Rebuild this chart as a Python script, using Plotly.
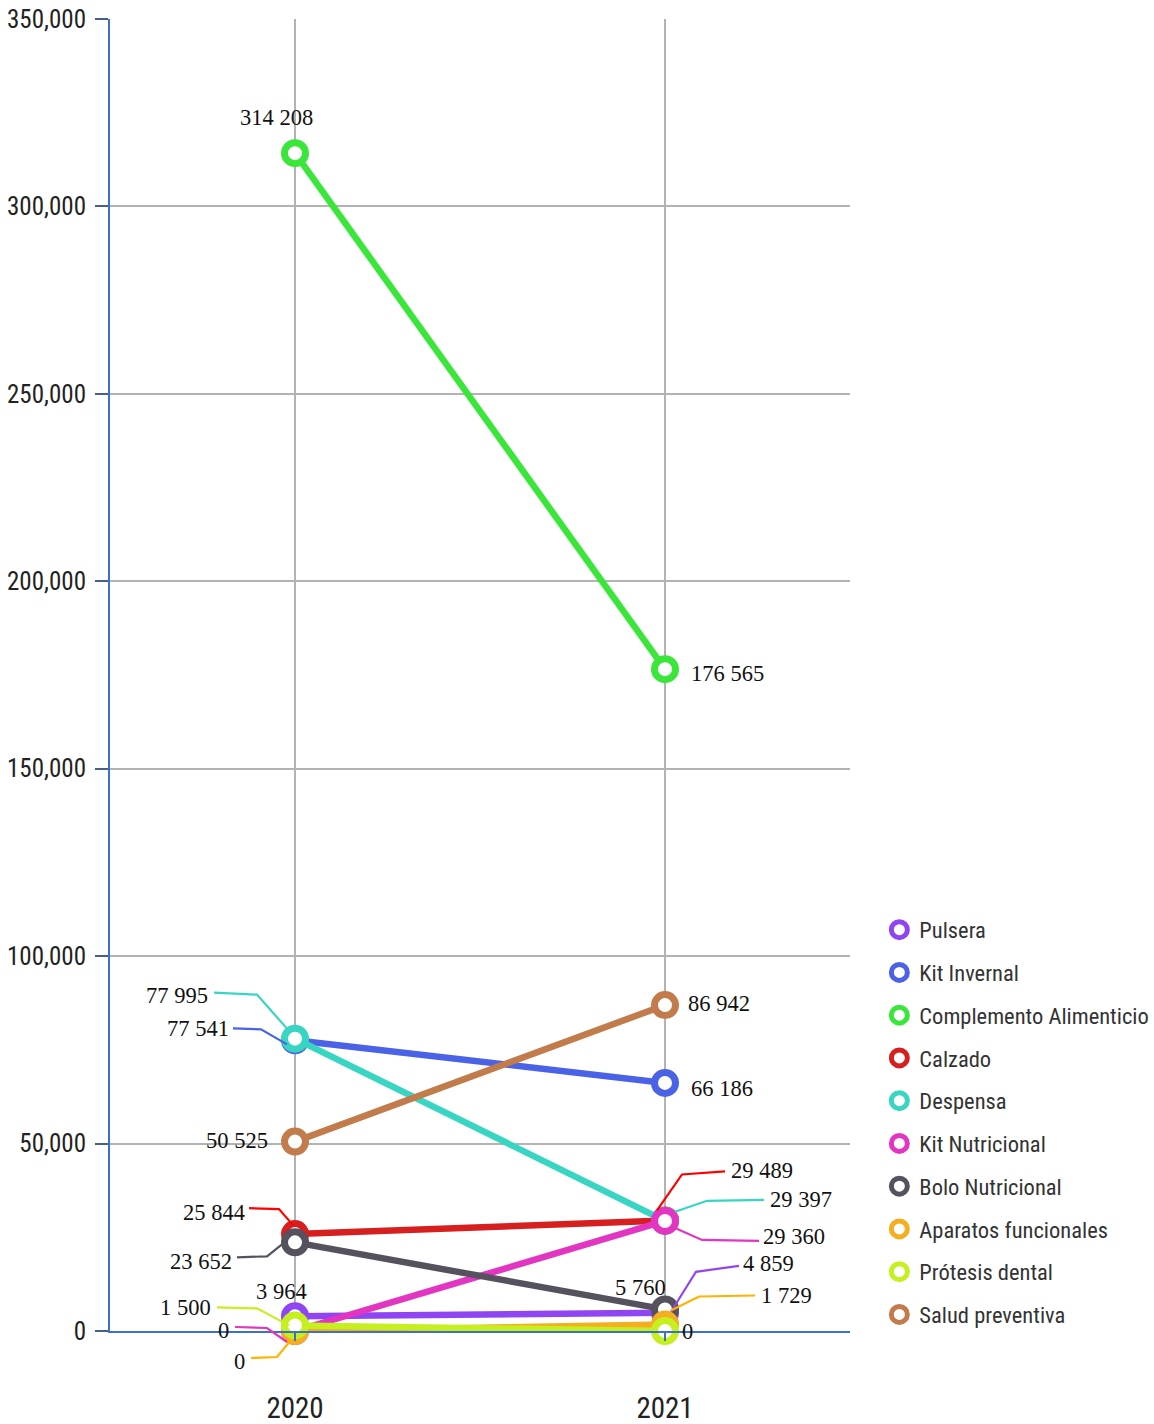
import plotly.graph_objects as go

# ---------------- data ----------------
categories = ["2020", "2021"]

pulsera = [3964, 4859]
kit_invernal = [77541, 66186]
complemento = [314208, 176565]
calzado = [25844, 29489]
despensa = [77995, 29397]
kit_nutricional = [0, 29360]
bolo = [23652, 5760]
aparatos = [0, 1729]
protesis = [1500, 0]
salud = [50525, 86942]

series_names = ["Pulsera", "Kit Invernal", "Complemento Alimenticio", "Calzado",
                "Despensa", "Kit Nutricional", "Bolo Nutricional",
                "Aparatos funcionales", "Prótesis dental", "Salud preventiva"]
series_values = [pulsera, kit_invernal, complemento, calzado, despensa,
                 kit_nutricional, bolo, aparatos, protesis, salud]

y_tickvals = [0, 50000, 100000, 150000, 200000, 250000, 300000, 350000]
y_range = [0, 350000]
x_range = [-0.5, 1.5]

# ---------------- styles ----------------
colors = ["#8f46f2", "#4a62e6", "#3be63b", "#d61f1f", "#38d6c2",
          "#e235c2", "#55525d", "#f4ae22", "#c6ef1f", "#c27b4b"]
leader_colors = ["#8f46f2", "#4a62e6", "#3be63b", "#ff0000", "#38d6c2",
                 "#e235c2", "#55525d", "#ffb300", "#c6ef1f", "#c27b4b"]

# label placement per (series index, year index): anchor, dx, dy (pixels, up positive), leader path (pixels)
label_style = {
    (2, 0): ("center", -19, 36, None),
    (4, 0): ("right", -85, 43, [(-81, 46), (-38, 44), (-8, 10)]),
    (1, 0): ("right", -64, 12, [(-62, 12), (-34, 11), (-8, -4)]),
    (9, 0): ("right", -25, 1, None),
    (3, 0): ("right", -48, 22, [(-46, 26), (-16, 25), (-2, 9)]),
    (6, 0): ("right", -61, -19, [(-58, -15), (-28, -14), (-8, 2)]),
    (0, 0): ("center", -14, 25, None),
    (8, 0): ("right", -82, 18, [(-78, 18), (-38, 17), (-6, 0)]),
    (5, 0): ("right", -64, 1, [(-60, 4), (-28, 3), (-8, -11)]),
    (7, 0): ("right", -48, -30, [(-44, -27), (-18, -26), (-4, -9)]),
    (2, 1): ("left", 24, -4, None),
    (9, 1): ("left", 21, 2, None),
    (1, 1): ("left", 24, -6, None),
    (3, 1): ("left", 64, 50, [(60, 49), (17, 46), (-8, 10)]),
    (4, 1): ("left", 103, 21, [(99, 21), (42, 20), (10, 9)]),
    (5, 1): ("left", 96, -16, [(94, -20), (37, -19), (10, -7)]),
    (6, 1): ("center", -25, 22, None),
    (0, 1): ("left", 76, 49, [(74, 47), (31, 41), (6, 1)]),
    (7, 1): ("left", 94, 29, [(90, 29), (34, 28), (6, 14)]),
    (8, 1): ("left", 15, 0, None),
}

label_font = dict(family="Liberation Serif, DejaVu Serif, serif", size=22.5, color="#111111")
sans_narrow = "Liberation Sans Narrow, Roboto Condensed, Roboto, sans-serif"


def fmt(v):
    return f"{v:,}".replace(",", " ")


fig = go.Figure()

for i, (name, vals) in enumerate(zip(series_names, series_values)):
    fig.add_trace(go.Scatter(
        x=categories, y=vals, mode="lines+markers", name=name,
        line=dict(color=colors[i], width=6.5),
        marker=dict(symbol="circle", size=21, color="white",
                    line=dict(color=colors[i], width=7)),
        cliponaxis=False, showlegend=False, hoverinfo="skip",
    ))

# legend-only traces (open circle symbols)
for i, name in enumerate(series_names):
    fig.add_trace(go.Scatter(
        x=[None], y=[None], mode="markers", name=name, legendgroup=name,
        marker=dict(symbol="circle", size=16, color="white",
                    line=dict(color=colors[i], width=5)),
        showlegend=True, hoverinfo="skip",
    ))

annotations = []
shapes = []
for (si, yi), (anchor, dx, dy, leader) in label_style.items():
    val = series_values[si][yi]
    annotations.append(dict(
        x=yi, y=val, xref="x", yref="y", text=fmt(val),
        showarrow=False, xanchor=anchor, yanchor="middle",
        xshift=dx, yshift=dy, font=label_font,
    ))
    if leader:
        # anchor the leader to the data point in paper fractions (so it is not clipped)
        ax_frac = (yi - x_range[0]) / (x_range[1] - x_range[0])
        ay_frac = (val - y_range[0]) / (y_range[1] - y_range[0])
        path = "M " + " L ".join(f"{px} {py}" for px, py in leader)
        shapes.append(dict(
            type="path", xref="paper", yref="paper", xsizemode="pixel", ysizemode="pixel",
            xanchor=ax_frac, yanchor=ay_frac, path=path,
            line=dict(color=leader_colors[si], width=2.2), layer="above",
        ))

fig.update_layout(
    width=1154, height=1424,
    margin=dict(l=110, r=304, t=19, b=93, autoexpand=False),
    paper_bgcolor="white", plot_bgcolor="white",
    showlegend=True,
    legend=dict(
        xref="container", yref="container",
        x=0.762, xanchor="left", y=0.362, yanchor="top",
        font=dict(family=sans_narrow, size=22.5, color="#333333"),
        traceorder="grouped", tracegroupgap=10.5,
        itemsizing="trace", bgcolor="rgba(0,0,0,0)",
    ),
    annotations=annotations,
    shapes=shapes,
    xaxis=dict(
        type="category", categoryorder="array", categoryarray=categories,
        range=x_range, automargin=False,
        showgrid=True, gridcolor="#b3b3b3", gridwidth=2,
        showline=True, linecolor="#3a72c9", linewidth=2,
        ticks="outside", ticklen=8, tickcolor="#3a72c9", tickwidth=2,
        ticklabelstandoff=42,
        tickfont=dict(family=sans_narrow, size=29, color="#222222"),
        zeroline=False,
    ),
    yaxis=dict(
        range=y_range, tickvals=y_tickvals, tickformat=",", automargin=False,
        showgrid=True, gridcolor="#b3b3b3", gridwidth=2,
        showline=True, linecolor="#3a72c9", linewidth=2,
        ticks="outside", ticklen=13, tickcolor="#4a5f85", tickwidth=2,
        ticklabelstandoff=4,
        tickfont=dict(family=sans_narrow, size=25, color="#222222"),
        zeroline=False,
    ),
)

fig.write_html("out.html")
